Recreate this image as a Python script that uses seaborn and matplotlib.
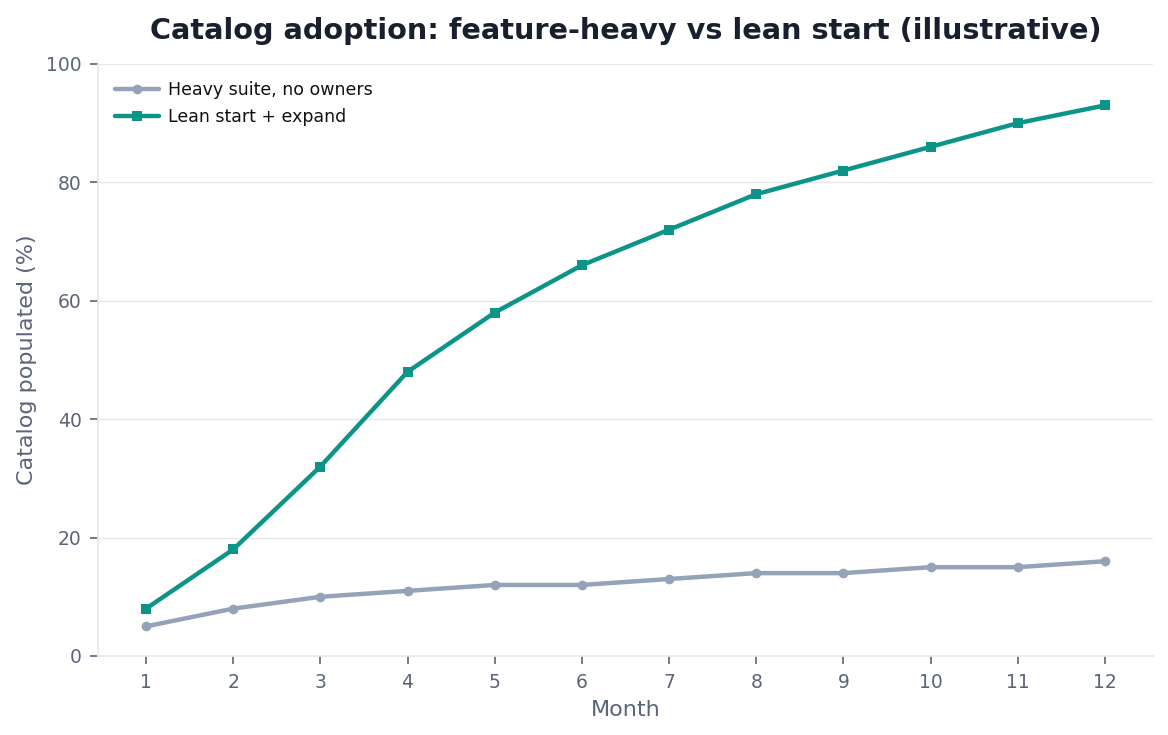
import matplotlib
matplotlib.use("Agg")
import matplotlib.pyplot as plt
import numpy as np
import pandas as pd
import seaborn as sns

# data
months = list(range(1, 13))
heavy = [5, 8, 10, 11, 12, 12, 13, 14, 14, 15, 15, 16]
lean = [8, 18, 32, 48, 58, 66, 72, 78, 82, 86, 90, 93]
series_names = ["Heavy suite, no owners", "Lean start + expand"]
colors = ["#94a3b8", "#0d9488"]

TEXT = "#5b6478"
GRID = "#e5e7eb"

df = pd.DataFrame({
    "Month": months * 2,
    "value": heavy + lean,
    "series": [series_names[0]] * 12 + [series_names[1]] * 12,
})

sns.set_theme(style="white")
plt.rcParams["font.family"] = ["DejaVu Sans"]

fig = plt.figure(figsize=(11.68, 7.35), dpi=100)
ax = fig.add_axes([0.084, 0.1075, 0.903, 0.8055])

sns.lineplot(data=df, x="Month", y="value", hue="series", style="series",
             palette=dict(zip(series_names, colors)),
             markers={series_names[0]: "o", series_names[1]: "s"},
             dashes=False, linewidth=3.2, markersize=7, markeredgewidth=0,
             ax=ax)

ax.set_ylim(0, 100)
ax.set_xticks(months)
ax.set_yticks([0, 20, 40, 60, 80, 100])
ax.yaxis.grid(True, color=GRID, linewidth=1)
ax.xaxis.grid(False)
ax.set_axisbelow(True)

for s in ["top", "right"]:
    ax.spines[s].set_visible(False)
for s in ["left", "bottom"]:
    ax.spines[s].set_color(GRID)
    ax.spines[s].set_linewidth(1.2)

ax.tick_params(axis="both", colors=TEXT, labelsize=13.5, length=6, width=1.2,
               left=True, bottom=True, pad=6)

ax.set_xlabel("Month", fontsize=16, color=TEXT, labelpad=6)
ax.set_ylabel("Catalog populated (%)", fontsize=16, color=TEXT, labelpad=6)
ax.set_title("Catalog adoption: feature-heavy vs lean start (illustrative)",
             fontsize=20.7, fontweight="bold", color="#1a1f2e", pad=18)

leg = ax.legend(loc="upper left", frameon=False, fontsize=12.5, title=None,
                handlelength=2.5, handletextpad=0.5, borderaxespad=0.6)
for t in leg.get_texts():
    t.set_color("#111111")

fig.savefig("out.png", dpi=100)
